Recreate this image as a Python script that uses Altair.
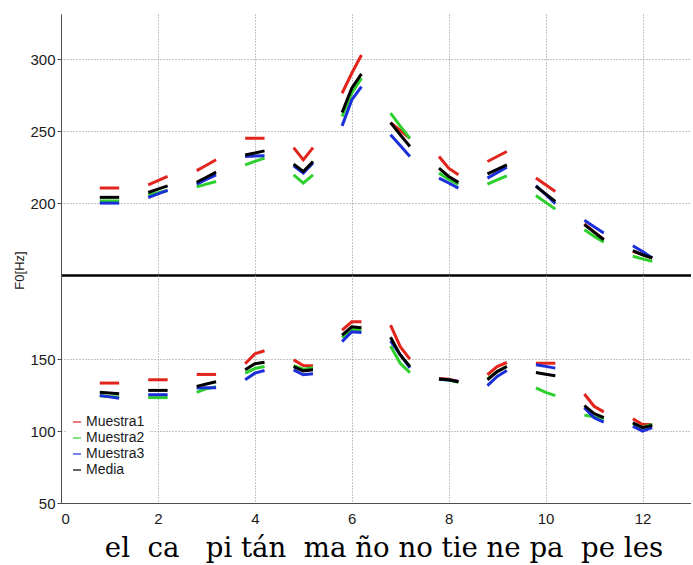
import altair as alt
import pandas as pd

# Series, colours and axis ticks
SERIES = ["Muestra1", "Muestra2", "Muestra3", "Media"]
COLORS = ["#e3241d", "#2ccf2c", "#1c2ed8", "#000000"]
SYLLABLES = list(range(1, 13))
X_TICKS = [0, 2, 4, 6, 8, 10, 12]
UPPER_TICKS = [200, 250, 300]
LOWER_TICKS = [50, 100, 150]
SENTENCE = ["el", "", "ca", "", "", "pi", "tán", "", "ma", "ño", "no", "tie", "ne", "pa", "", "pe", "les"]

# F0 contour per syllable: [start, centre, end] in Hz -- upper speaker
upper_muestra1 = [[210.5, 210.5, 210.5], [212.7, 215.6, 218.5], [222.6, 226.3, 230.1], [245.1, 245.1, 245.1],
                  [238.6, 230.1, 238.6], [276.4, 290.3, 303.0], [256.0, 250.5, 245.0], [232.4, 224.3, 219.7],
                  [228.9, 232.4, 235.9], [217.4, 212.8, 208.1], [185.5, 180.0, 174.8], [166.5, 164.2, 162.0]]
upper_muestra2 = [[201.5, 201.5, 201.5], [205.6, 207.2, 208.7], [211.3, 213.2, 215.0], [226.6, 229.0, 231.3],
                  [219.7, 213.9, 219.7], [260.2, 276.4, 286.8], [262.5, 253.5, 245.0], [221.0, 216.5, 213.0],
                  [213.2, 216.1, 219.0], [205.3, 200.5, 195.8], [181.5, 177.0, 172.7], [163.0, 161.2, 159.5]]
upper_muestra3 = [[200.0, 200.0, 200.0], [203.9, 206.4, 208.8], [213.2, 216.5, 219.7], [232.4, 232.7, 233.0],
                  [226.0, 221.0, 228.0], [253.7, 271.8, 281.0], [247.5, 240.0, 232.4], [217.4, 214.0, 210.4],
                  [217.4, 221.2, 225.0], [212.1, 206.0, 199.7], [188.0, 183.6, 179.2], [170.4, 166.4, 161.8]]
upper_media = [[204.0, 204.0, 204.0], [207.4, 209.7, 212.0], [214.5, 218.0, 221.5], [233.5, 234.8, 236.3],
               [227.1, 222.0, 228.9], [263.0, 279.9, 289.8], [256.0, 247.5, 239.4], [224.3, 218.5, 214.4],
               [220.4, 223.5, 226.6], [211.6, 206.4, 201.2], [185.0, 179.8, 174.5], [166.9, 164.0, 161.8]]

# F0 contour per syllable: [start, centre, end] in Hz -- lower speaker
lower_muestra1 = [[133.4, 133.4, 133.4], [135.7, 135.7, 135.7], [139.4, 139.4, 139.4], [146.8, 153.7, 155.9],
                  [149.5, 145.6, 145.4], [170.2, 176.0, 176.0], [173.7, 158.7, 150.0], [136.5, 136.0, 134.5],
                  [139.2, 144.9, 147.7], [147.2, 147.2, 147.2], [125.8, 117.3, 113.4], [108.6, 104.6, 104.6]]
lower_muestra2 = [[124.5, 124.0, 123.8], [123.3, 123.3, 123.3], [126.9, 129.5, 130.8], [140.3, 143.5, 144.9],
                  [145.5, 143.0, 144.0], [165.0, 171.0, 170.5], [159.2, 147.2, 140.7], [136.0, 135.5, 134.0],
                  [136.3, 141.3, 144.9], [130.0, 126.9, 124.7], [111.1, 110.0, 108.3], [105.3, 102.6, 104.7]]
lower_muestra3 = [[124.7, 123.8, 122.8], [125.3, 125.3, 125.3], [130.0, 130.1, 130.2], [135.7, 140.3, 142.1],
                  [142.6, 139.2, 139.9], [162.2, 169.1, 168.6], [162.7, 153.1, 144.0], [136.0, 135.5, 134.5],
                  [131.6, 138.0, 142.1], [146.1, 145.0, 143.8], [116.2, 109.3, 106.2], [103.5, 100.0, 102.4]]
lower_media = [[127.0, 126.5, 126.0], [128.3, 128.3, 128.3], [131.1, 132.7, 134.3], [142.6, 146.8, 147.9],
               [144.9, 141.9, 142.6], [166.8, 172.5, 171.8], [165.2, 153.0, 144.9], [136.2, 135.7, 134.3],
               [135.7, 141.4, 144.9], [140.7, 139.6, 138.5], [117.7, 112.2, 109.3], [105.8, 102.4, 103.9]]

STEPS = (-0.2, 0.0, 0.2)  # sample positions inside each syllable


def contour_table(*series_values):
    rows = []
    for order, (name, values) in enumerate(zip(SERIES, series_values)):
        for syl, triple in zip(SYLLABLES, values):
            for step, f0 in zip(STEPS, triple):
                rows.append({"serie": name, "z": order, "silaba": syl, "t": syl + step, "f0": f0})
    return pd.DataFrame(rows)


upper_df = contour_table(upper_muestra1, upper_muestra2, upper_muestra3, upper_media)
lower_df = contour_table(lower_muestra1, lower_muestra2, lower_muestra3, lower_media)

FONT = "Liberation Sans"
PX_PER_HZ = 1.438
UPPER_H = 261
LOWER_H = 228
WIDTH = 630

x_scale = alt.Scale(domain=[0, 13], nice=False, zero=False)
color_scale = alt.Scale(domain=SERIES, range=COLORS)

grid_style = dict(grid=True, gridColor="#8a8a8a", gridDash=[1, 2], gridWidth=1)
label_style = dict(labelFont=FONT, labelFontSize=15, labelColor="#1a1a1a")


def panel(df, y_domain, y_ticks, height, lower):
    x_axis = alt.Axis(
        values=X_TICKS, title=None, labels=lower, ticks=False,
        domainColor="#4d4d4d" if lower else "#000000", domainWidth=1 if lower else 2.5,
        labelPadding=8, format="d", **grid_style, **label_style,
    )
    y_kwargs = dict(
        values=y_ticks, format="d", domainColor="#4d4d4d", tickColor="#4d4d4d",
        tickSize=4, labelPadding=2, **grid_style, **label_style,
    )
    if lower:
        y_axis = alt.Axis(title=None, **y_kwargs)
        legend = alt.Legend(
            orient="none", legendX=5, legendY=136, title=None, symbolType="stroke",
            symbolStrokeWidth=1.2, symbolSize=64, labelFont=FONT, labelFontSize=14,
            labelColor="#1a1a1a", labelOffset=2, rowPadding=2, fillColor="white", padding=4,
        )
        color = alt.Color("serie:N", scale=color_scale, sort=SERIES, legend=legend)
    else:
        y_axis = alt.Axis(
            title="F0[Hz]", titleFont=FONT, titleFontSize=13, titleFontWeight="normal",
            titleColor="#1a1a1a", titleX=-38, titleY=height - 5, titleAngle=-90,
            titleAlign="center", titleBaseline="alphabetic", **y_kwargs,
        )
        color = alt.Color("serie:N", scale=color_scale, sort=SERIES, legend=None)
    return alt.Chart(df).mark_line(strokeWidth=3, clip=True).encode(
        x=alt.X("t:Q", scale=x_scale, axis=x_axis),
        y=alt.Y("f0:Q", scale=alt.Scale(domain=y_domain, nice=False, zero=False), axis=y_axis),
        color=color,
        detail="silaba:N",
        order="t:Q",
    ).properties(width=WIDTH, height=height)


upper_top = 150 + UPPER_H / PX_PER_HZ
lower_top = 50 + LOWER_H / PX_PER_HZ

upper = panel(upper_df, [150, upper_top], UPPER_TICKS, UPPER_H, False)
lower = panel(lower_df, [50, lower_top], LOWER_TICKS, LOWER_H, True)

sentence = "\u00a0".join(SENTENCE)

chart = alt.vconcat(upper, lower, spacing=0, bounds="flush").resolve_legend(color="independent").properties(
    title=alt.TitleParams(
        sentence, orient="bottom", anchor="middle", frame="group", font="DejaVu Serif",
        fontSize=27.6, fontWeight="normal", color="#000000", offset=9, dx=8,
    ),
    padding={"left": 13, "top": 14, "right": 0, "bottom": 0},
).configure_view(strokeWidth=0)

chart.save("out.html", embed_options={"renderer": "svg", "actions": False})
